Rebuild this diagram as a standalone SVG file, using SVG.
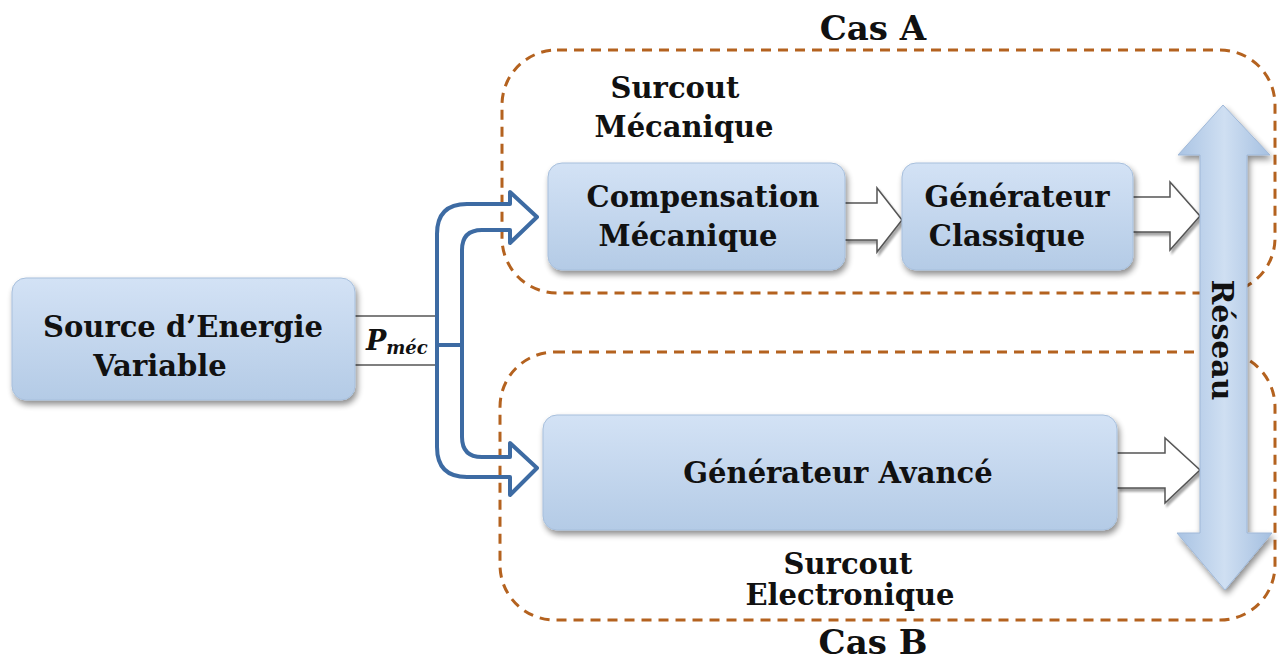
<svg xmlns="http://www.w3.org/2000/svg" width="1280" height="660" viewBox="0 0 1280 660">
<defs>
<linearGradient id="boxg" x1="0" y1="0" x2="0" y2="1">
<stop offset="0" stop-color="#d3e2f5"/>
<stop offset="1" stop-color="#b4cbe6"/>
</linearGradient>
<linearGradient id="resg" x1="0" y1="0" x2="1" y2="0">
<stop offset="0" stop-color="#a9c3e3"/>
<stop offset="0.5" stop-color="#cfdff2"/>
<stop offset="1" stop-color="#a4bfe0"/>
</linearGradient>
<filter id="sh" x="-10%" y="-10%" width="130%" height="140%">
<feGaussianBlur in="SourceAlpha" stdDeviation="3"/>
<feOffset dx="2" dy="4" result="b"/>
<feComponentTransfer><feFuncA type="linear" slope="0.45"/></feComponentTransfer>
<feMerge><feMergeNode/><feMergeNode in="SourceGraphic"/></feMerge>
</filter>
<filter id="sh2" x="-10%" y="-10%" width="130%" height="140%">
<feGaussianBlur in="SourceAlpha" stdDeviation="1.2"/>
<feOffset dx="2" dy="3" result="b"/>
<feComponentTransfer><feFuncA type="linear" slope="0.35"/></feComponentTransfer>
<feMerge><feMergeNode/><feMergeNode in="SourceGraphic"/></feMerge>
</filter>
</defs>
<style>
.box{fill:url(#boxg);stroke:#a7bfdc;stroke-width:1;filter:url(#sh)}
.t{font-family:"DejaVu Serif","Liberation Serif",serif;font-weight:bold;fill:#111;text-anchor:middle}
.lbl{font-size:29px}
.cas{font-size:34px}
.sc{font-size:29px}
.dash{fill:none;stroke:#b4621f;stroke-width:3;stroke-dasharray:10 7}
.flow{fill:none;stroke:#3d6ba3;stroke-width:4;stroke-linejoin:round}
.hol{fill:#fff;stroke:#555;stroke-width:1.5;stroke-linejoin:miter;filter:url(#sh2)}
.thin{stroke:#555;stroke-width:1.5}
</style>

<g id="casA">
<rect class="dash" x="502" y="50" width="773" height="243" rx="55"/>
<text class="t cas" x="873" y="40">Cas A</text>
<text class="t sc" x="675" y="98">Surcout</text>
<text class="t sc" x="684" y="137">Mécanique</text>
</g>
<g id="casB">
<rect class="dash" x="500" y="352" width="775" height="268" rx="55"/>
<text class="t cas" x="873" y="654">Cas B</text>
<text class="t sc" x="848" y="574">Surcout</text>
<text class="t sc" x="850" y="605">Electronique</text>
</g>

<g id="connectors">
<line class="thin" x1="355" y1="316" x2="437" y2="316"/>
<line class="thin" x1="355" y1="365" x2="437" y2="365"/>
<text x="366" y="350" font-family="DejaVu Serif, Liberation Serif, serif" font-weight="bold" font-style="italic" font-size="27" fill="#111">P<tspan font-size="18" dy="4">méc</tspan></text>
<path class="flow" d="M510 204 H467 Q437 204 437 234 V447 Q437 477 467 477 H510 V495 L537 468 L510 443 V457 H482 Q462 457 462 437 V250 Q462 230 482 230 H510 V243 L537 217 L510 192 Z"/>
<line class="flow" x1="437" y1="345" x2="462" y2="345"/>
<path class="hol" d="M845 203 H877 V188 L902 220 L877 252 V240 H845"/>
<path class="hol" d="M1133 197 H1170 V182 L1200 216 L1170 250 V232 H1133"/>
<path class="hol" d="M1117 453 H1165 V438 L1200 470 L1165 503 V488 H1117"/>
</g>

<g id="reseau">
<path d="M1200 155 H1178 L1223 105 L1270 155 H1247 V533 H1272 L1225 590 L1177 533 H1200 Z" fill="url(#resg)" stroke="#9fb8d8" stroke-width="1" filter="url(#sh)"/>
<text class="t" font-size="30" transform="translate(1212 340) rotate(90)">Réseau</text>
</g>

<g id="source">
<rect class="box" x="12" y="278" width="343" height="122" rx="14"/>
<text class="t lbl" x="183" y="337">Source d’Energie</text>
<text class="t lbl" x="160" y="376">Variable</text>
</g>
<g id="compensation">
<rect class="box" x="548" y="163" width="297" height="107" rx="14"/>
<text class="t lbl" x="703" y="207">Compensation</text>
<text class="t lbl" x="688" y="246">Mécanique</text>
</g>
<g id="genclassique">
<rect class="box" x="902" y="163" width="231" height="107" rx="14"/>
<text class="t lbl" x="1017" y="207">Générateur</text>
<text class="t lbl" x="1007" y="246">Classique</text>
</g>
<g id="genavance">
<rect class="box" x="543" y="415" width="574" height="115" rx="14"/>
<text class="t lbl" x="838" y="483">Générateur Avancé</text>
</g>
</svg>
